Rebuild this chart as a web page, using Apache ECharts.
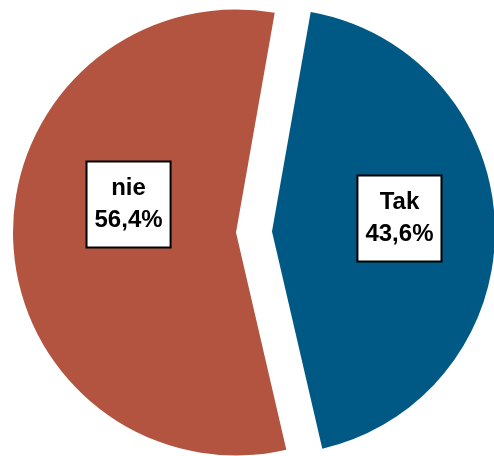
<!DOCTYPE html>
<html style="height: 100%">

<head>
  <meta charset="utf-8">
  <script src="https://cdn.jsdelivr.net/npm/echarts@6/dist/echarts.min.js"></script>
</head>

<body style="height: 100%; margin: 0; background: #fff">
  <div id="main" style="width: 494px; height: 456px"></div>

  <script type="text/javascript">
    // answers and their shares (%)
    var categories = ['Tak', 'nie'];
    var shares = [43.6, 56.4];
    var colors = ['#005984', '#B25440'];
    // nudge of each inside label
    var labelShift = [[13, -10], [7, -31]];

    var myChart = echarts.init(document.getElementById('main'));

    var pieData = categories.map(function (name, i) {
      return {
        name: name,
        value: shares[i],
        selected: true,
        itemStyle: { color: colors[i] }
      };
    });

    var option = {
      animation: false,
      series: [{
        type: 'pie',
        center: [254, 232],
        radius: 223,
        startAngle: 80,
        clockwise: true,
        selectedMode: 'multiple',
        selectedOffset: 18,
        avoidLabelOverlap: false,
        emphasis: { disabled: true },
        label: {
          show: true,
          position: 'inside',
          formatter: function (p) {
            return p.name + '\n' + p.value.toFixed(1).replace('.', ',') + '%';
          },
          fontFamily: 'Liberation Sans, Arial, sans-serif',
          fontWeight: 'bold',
          fontSize: 24,
          lineHeight: 32,
          color: '#000',
          backgroundColor: '#fff',
          borderColor: '#000',
          borderWidth: 2,
          padding: [9, 7, 11, 7],
          align: 'center'
        },
        labelLayout: function (params) {
          var s = labelShift[params.dataIndex];
          return { dx: s[0], dy: s[1] };
        },
        labelLine: { show: false },
        data: pieData
      }]
    };
    myChart.setOption(option);
  </script>
</body>

</html>
